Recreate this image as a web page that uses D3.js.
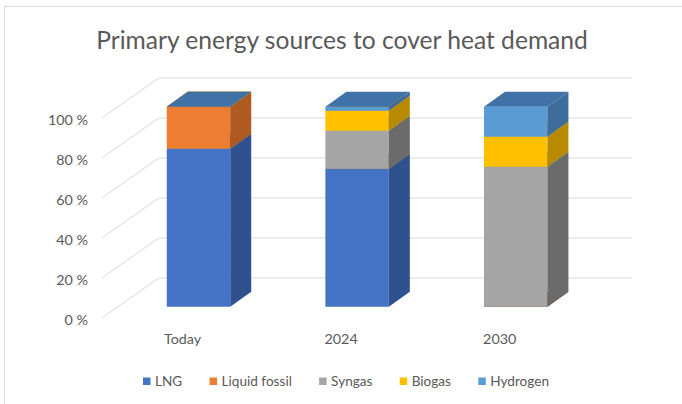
<!DOCTYPE html>
<html>
<head>
<meta charset="utf-8">
<script src="https://cdn.jsdelivr.net/npm/d3@7"></script>
<style>
  html, body { margin: 0; padding: 0; background: #fff; }
  svg { display: block; }
  text { font-family: Lato, "Open Sans", sans-serif; }
</style>
</head>
<body>
<svg id="chart" width="682" height="404"></svg>
<script>
// ---- data ----
const categories = ["Today", "2024", "2030"];
const seriesNames = ["LNG", "Liquid fossil", "Syngas", "Biogas", "Hydrogen"];
const lng          = [79, 69, 0];
const liquidFossil = [21, 0, 0];
const syngas       = [0, 19, 70];
const biogas       = [0, 10, 15];
const hydrogen     = [0, 2, 15];
const yTicks = [0, 20, 40, 60, 80, 100];
const yTickLabels = ["0 %", "20 %", "40 %", "60 %", "80 %", "100 %"];
const title = "Primary energy sources to cover heat demand";

// ---- styles ----
const frontColors = ["#4472C4", "#ED7D31", "#A5A5A5", "#FFC000", "#5B9BD5"];
const sideColors  = ["#2F528F", "#AE5A21", "#6B6B6B", "#B88A00", "#3E6D9B"];
const topColors   = ["#3A64AE", "#C9692A", "#8A8A8A", "#D9A300", "#4072A8"];

const svg = d3.select("#chart");
const W = 682, H = 404;

// border
svg.append("line").attr("x1", 4.5).attr("x2", 4.5).attr("y1", 6).attr("y2", H)
  .attr("stroke", "#D9D9D9").attr("stroke-width", 1);
svg.append("line").attr("x1", 4).attr("x2", W).attr("y1", 6.5).attr("y2", 6.5)
  .attr("stroke", "#D9D9D9").attr("stroke-width", 1);

// title
svg.append("text").attr("x", 342).attr("y", 49).attr("text-anchor", "middle")
  .attr("font-size", 24.6).attr("fill", "#595959").text(title);

// scales (bar front plane)
const y = d3.scaleLinear().domain([0, 100]).range([306.7, 106.7]);
const x = d3.scaleBand().domain(categories).range([119.2, 595]).paddingInner(0.6).paddingOuter(0.3);

// 3D offsets
const barDx = 21, barDy = -15;            // bar depth
const frontDx = -16, frontDy = 11.3;      // floor front edge relative to bar front
const backDx = 40.7, backDy = -28.7;      // back wall relative to bar front
const backRight = 632;

// gridlines: back wall + side wall diagonals
const grid = svg.append("g").attr("stroke", "#D9D9D9").attr("stroke-width", 1).attr("fill", "none");
yTicks.forEach(t => {
  const yf = y(t);
  const xLeftFront = x.range()[0] + frontDx - 1.2;
  grid.append("path").attr("d",
    `M${xLeftFront},${yf + frontDy}L${xLeftFront + (backDx - frontDx)},${yf + backDy}L${backRight},${yf + backDy}`);
});

// y labels
svg.append("g").selectAll("text").data(yTicks).join("text")
  .attr("x", 88).attr("y", (d) => y(d) + frontDy + 6.5)
  .attr("text-anchor", "end").attr("font-size", 14.3).attr("fill", "#595959")
  .text((d, i) => yTickLabels[i]);

// category labels
svg.append("g").selectAll("text").data(categories).join("text")
  .attr("x", d => x(d) + x.bandwidth() / 2 + frontDx)
  .attr("y", 344).attr("text-anchor", "middle").attr("font-size", 14.3).attr("fill", "#595959")
  .text(d => d);

// stacked bars
const table = categories.map((c, i) => ({
  cat: c, "LNG": lng[i], "Liquid fossil": liquidFossil[i], "Syngas": syngas[i],
  "Biogas": biogas[i], "Hydrogen": hydrogen[i]
}));
const stack = d3.stack().keys(seriesNames)(table);

const bars = svg.append("g");
categories.forEach((c, ci) => {
  const x0 = x(c), x1 = x(c) + x.bandwidth();
  stack.forEach((s, si) => {
    const d = s[ci];
    const yb = y(d[0]), yt = y(d[1]);
    const g = bars.append("g");
    g.append("path").attr("d", `M${x0},${yb}L${x1},${yb}L${x1},${yt}L${x0},${yt}Z`).attr("fill", frontColors[si]);
    g.append("path").attr("d", `M${x1},${yb}L${x1 + barDx},${yb + barDy}L${x1 + barDx},${yt + barDy}L${x1},${yt}Z`).attr("fill", sideColors[si]);
    g.append("path").attr("d", `M${x0},${yt}L${x1},${yt}L${x1 + barDx},${yt + barDy}L${x0 + barDx},${yt + barDy}Z`).attr("fill", topColors[si]);
  });
});

// legend (flow layout spanning the reference's legend extent)
const legend = svg.append("g").attr("transform", "translate(0,381)");
const legStart = 143, legEnd = 549;
const items = seriesNames.map((n, i) => {
  const g = legend.append("g");
  g.append("rect").attr("x", 0).attr("y", -3.5).attr("width", 7.5).attr("height", 7.5).attr("fill", frontColors[i]);
  const t = g.append("text").attr("x", 12).attr("y", 5).attr("font-size", 13.6).attr("fill", "#595959").text(n);
  return { g, w: 12 + t.node().getComputedTextLength() };
});
const sumW = d3.sum(items, d => d.w);
const gap = (legEnd - legStart - sumW) / (items.length - 1);
let cx = legStart;
items.forEach(it => { it.g.attr("transform", `translate(${cx},0)`); cx += it.w + gap; });
</script>
</body>
</html>
